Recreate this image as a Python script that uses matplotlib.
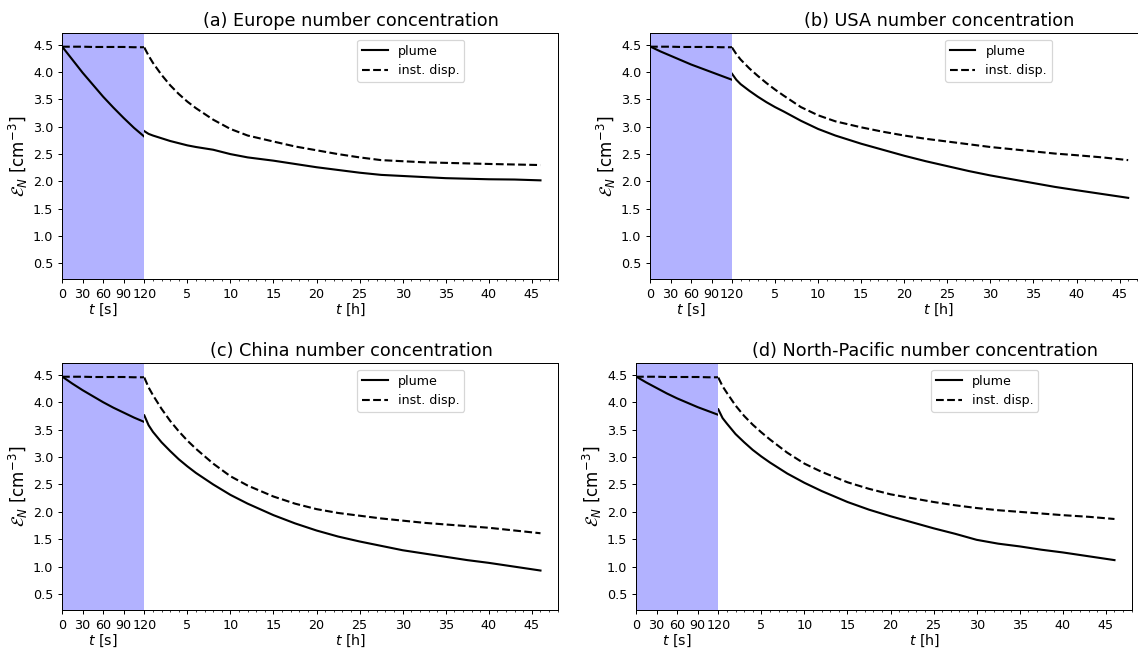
import matplotlib
matplotlib.use("Agg")
import matplotlib.pyplot as plt
from matplotlib.ticker import MultipleLocator

# ---------------- data ----------------
t_sec = [0, 15, 30, 45, 60, 75, 90, 105, 120]
t_hour = [0, 0.5, 1, 2, 3, 4, 5, 6, 8, 10, 12, 15, 17.5, 20, 22.5, 25,
          27.5, 30, 32.5, 35, 37.5, 40, 43, 46]

titles = ["(a) Europe number concentration",
          "(b) USA number concentration",
          "(c) China number concentration",
          "(d) North-Pacific number concentration"]

# seconds phase (plume)
plume_sec_a = [4.47, 4.23, 3.99, 3.77, 3.55, 3.35, 3.16, 2.98, 2.82]
plume_sec_b = [4.47, 4.38, 4.30, 4.22, 4.14, 4.07, 4.00, 3.93, 3.86]
plume_sec_c = [4.47, 4.34, 4.22, 4.11, 4.00, 3.90, 3.81, 3.72, 3.64]
plume_sec_d = [4.47, 4.36, 4.26, 4.16, 4.07, 3.99, 3.91, 3.84, 3.77]
# seconds phase (instant dispersion)
disp_sec = [4.465, 4.465, 4.465, 4.46, 4.46, 4.46, 4.46, 4.455, 4.455]

# hours phase (plume)
plume_h_a = [2.92, 2.87, 2.84, 2.79, 2.74, 2.70, 2.66, 2.63, 2.58, 2.50, 2.44, 2.38,
             2.32, 2.26, 2.21, 2.16, 2.12, 2.10, 2.08, 2.06, 2.05, 2.04, 2.035, 2.02]
plume_h_b = [3.97, 3.86, 3.78, 3.66, 3.55, 3.45, 3.36, 3.28, 3.11, 2.96, 2.84, 2.69,
             2.58, 2.47, 2.37, 2.28, 2.19, 2.11, 2.04, 1.97, 1.90, 1.84, 1.77, 1.70]
plume_h_c = [3.76, 3.58, 3.46, 3.27, 3.11, 2.96, 2.83, 2.71, 2.50, 2.31, 2.15, 1.94,
             1.79, 1.66, 1.55, 1.46, 1.38, 1.30, 1.24, 1.18, 1.12, 1.07, 1.00, 0.93]
plume_h_d = [3.87, 3.71, 3.61, 3.42, 3.27, 3.13, 3.01, 2.90, 2.70, 2.53, 2.38, 2.18,
             2.04, 1.92, 1.81, 1.70, 1.60, 1.49, 1.42, 1.37, 1.31, 1.26, 1.19, 1.12]
# hours phase (instant dispersion)
disp_h_a = [4.45, 4.30, 4.17, 3.95, 3.76, 3.60, 3.46, 3.34, 3.13, 2.96, 2.84, 2.73,
            2.64, 2.57, 2.50, 2.44, 2.39, 2.37, 2.35, 2.34, 2.33, 2.32, 2.31, 2.30]
disp_h_b = [4.45, 4.33, 4.23, 4.07, 3.93, 3.80, 3.68, 3.57, 3.36, 3.21, 3.10, 2.99,
            2.91, 2.84, 2.78, 2.73, 2.68, 2.63, 2.59, 2.55, 2.51, 2.48, 2.44, 2.39]
disp_h_c = [4.45, 4.27, 4.13, 3.88, 3.66, 3.47, 3.30, 3.15, 2.88, 2.65, 2.48, 2.28,
            2.15, 2.05, 1.98, 1.93, 1.88, 1.84, 1.80, 1.77, 1.74, 1.71, 1.66, 1.61]
disp_h_d = [4.45, 4.29, 4.17, 3.94, 3.75, 3.59, 3.45, 3.32, 3.08, 2.88, 2.73, 2.54,
            2.42, 2.32, 2.25, 2.18, 2.12, 2.07, 2.03, 2.00, 1.97, 1.94, 1.91, 1.87]

sec_ticks = [0, 30, 60, 90, 120]
hour_ticks = [5, 10, 15, 20, 25, 30, 35, 40, 45]
y_ticks = [0.5, 1.0, 1.5, 2.0, 2.5, 3.0, 3.5, 4.0, 4.5]

plume_sec = [plume_sec_a, plume_sec_b, plume_sec_c, plume_sec_d]
plume_h = [plume_h_a, plume_h_b, plume_h_c, plume_h_d]
disp_h = [disp_h_a, disp_h_b, disp_h_c, disp_h_d]

# ---------------- layout (pixels) ----------------
W, H = 1138, 652
DPI = 89
# (sec_left, boundary, right, top, bottom)
boxes = [(62, 144.3, 557.7, 33.3, 279.3),
         (650, 732, 1145.4, 33.3, 279.3),
         (62, 144.3, 557.7, 363.3, 610),
         (636, 718.3, 1131.7, 363.3, 610)]

fig = plt.figure(figsize=(W / DPI, H / DPI), dpi=DPI)

LW = 1.7
ylim = (0.21, 4.71)
for i in range(4):
    l, m, r, t, b = boxes[i]
    ax_s = fig.add_axes([l / W, 1 - b / H, (m - l) / W, (b - t) / H])
    ax_h = fig.add_axes([m / W, 1 - b / H, (r - m) / W, (b - t) / H])

    ax_s.axvspan(0, 120, color="blue", alpha=0.3, lw=0)
    ax_s.plot(t_sec, plume_sec[i], color="black", lw=LW)
    ax_s.plot(t_sec, disp_sec, color="black", lw=LW, ls="--")
    ax_s.set_xlim(0, 120)
    ax_s.set_ylim(*ylim)
    ax_s.set_xticks(sec_ticks)
    ax_s.set_yticks(y_ticks)
    ax_s.spines["right"].set_visible(False)
    ax_s.tick_params(labelsize=10.3)
    ax_s.set_xlabel("$t$ [s]", fontsize=11.5, labelpad=1)
    ax_s.set_ylabel(r"$\mathcal{E}_N$ [cm$^{-3}$]", fontsize=13.5, labelpad=2)

    ax_h.plot(t_hour, plume_h[i], color="black", lw=LW, label="plume")
    ax_h.plot(t_hour, disp_h[i], color="black", lw=LW, ls="--", label="inst. disp.")
    ax_h.set_xlim(0, 48)
    ax_h.set_ylim(*ylim)
    ax_h.set_xticks(hour_ticks)
    ax_h.xaxis.set_minor_locator(MultipleLocator(1))
    ax_h.set_yticks([])
    ax_h.spines["left"].set_visible(False)
    ax_h.tick_params(labelsize=10.3)
    ax_h.set_xlabel("$t$ [h]", fontsize=11.5, labelpad=1)
    ax_h.set_title(titles[i], fontsize=14.3)
    ax_h.legend(loc="upper center", bbox_to_anchor=(0.645, 1.0), fontsize=10.2)

fig.savefig("out.png", dpi=DPI)
